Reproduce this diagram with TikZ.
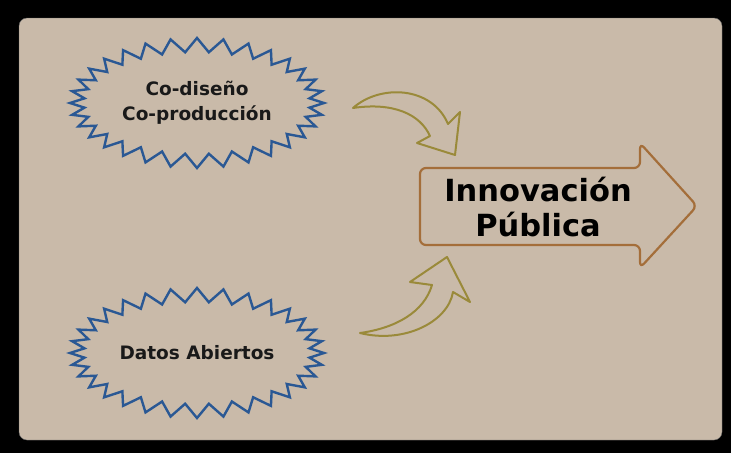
\documentclass[tikz,border=0pt]{standalone}
\usepackage{fontspec}
\setsansfont{DejaVu Sans}
\usetikzlibrary{calc}

\definecolor{panelbg}{RGB}{201,186,169}
\definecolor{zigblue}{RGB}{42,88,148}
\definecolor{olive}{RGB}{154,138,58}
\definecolor{brownline}{RGB}{164,110,58}

\tikzset{
	zig/.style={draw=zigblue,line width=2.4pt,line join=miter},
	bent/.style={draw=olive,line width=2pt,line join=round},
	bigarrow/.style={draw=brownline,line width=2.2pt,rounded corners=6pt},
	lbl/.style={font=\sffamily\bfseries\fontsize{18.5}{25}\selectfont,align=center,text=black!90},
	biglbl/.style={font=\sffamily\bfseries\fontsize{30.5}{35}\selectfont,align=center,text=black}
}

\begin{document}
\begin{tikzpicture}[x=1pt,y=-1pt]
\useasboundingbox (0,0) rectangle (731,453);
\fill[black] (0,0) rectangle (731,453);
\fill[panelbg,draw=black!60,rounded corners=8pt] (19,18) rectangle (722,440);

% stars
\coordinate (S1) at (197,103);
\coordinate (S2) at (197,353);
\draw[zig] plot[samples=65,domain=0:64,variable=\t]
	({197+(127-14*mod(round(\t),2))*cos(\t*5.625-2*sin(\t*11.25))},{103+(65-14*mod(round(\t),2))*sin(\t*5.625-2*sin(\t*11.25))}) -- cycle;
\draw[zig] plot[samples=65,domain=0:64,variable=\t]
	({197+(127-14*mod(round(\t),2))*cos(\t*5.625-2*sin(\t*11.25))},{353+(65-14*mod(round(\t),2))*sin(\t*5.625-2*sin(\t*11.25))}) -- cycle;
\node[lbl] (codis) at (S1) {Co-diseño\\Co-producción};
\node[lbl] (datos) at (S2) {Datos Abiertos};

% curved arrow top
\coordinate (TA) at (353,108);
\coordinate (TO) at (448,124);
\coordinate (TB1) at (460,112);
\coordinate (TT) at (455,155);
\coordinate (TB2) at (417,143);
\coordinate (TI) at (430,136);
\draw[bent] (TA) .. controls (380,84) and (432,86) .. (TO) -- (TB1) -- (TT) -- (TB2) -- (TI)
	.. controls (420,114) and (393,102) .. (TA) -- cycle;

% curved arrow bottom
\coordinate (BA) at (360,333);
\coordinate (BO) at (453,292);
\coordinate (BB1) at (470,302);
\coordinate (BT) at (447,257);
\coordinate (BB2) at (410,282);
\coordinate (BI) at (432,285);
\draw[bent] (BA) .. controls (404,344) and (448,322) .. (BO) -- (BB1) -- (BT) -- (BB2) -- (BI)
	.. controls (424,312) and (396,328) .. (BA) -- cycle;

% big arrow
\draw[bigarrow] (420,168) -- (640,168) -- (640,143) -- (697,206) -- (640,268) -- (640,245) -- (420,245) -- cycle;
\node[biglbl] (innov) at (538,207) {Innovación\\Pública};

\end{tikzpicture}
\end{document}
